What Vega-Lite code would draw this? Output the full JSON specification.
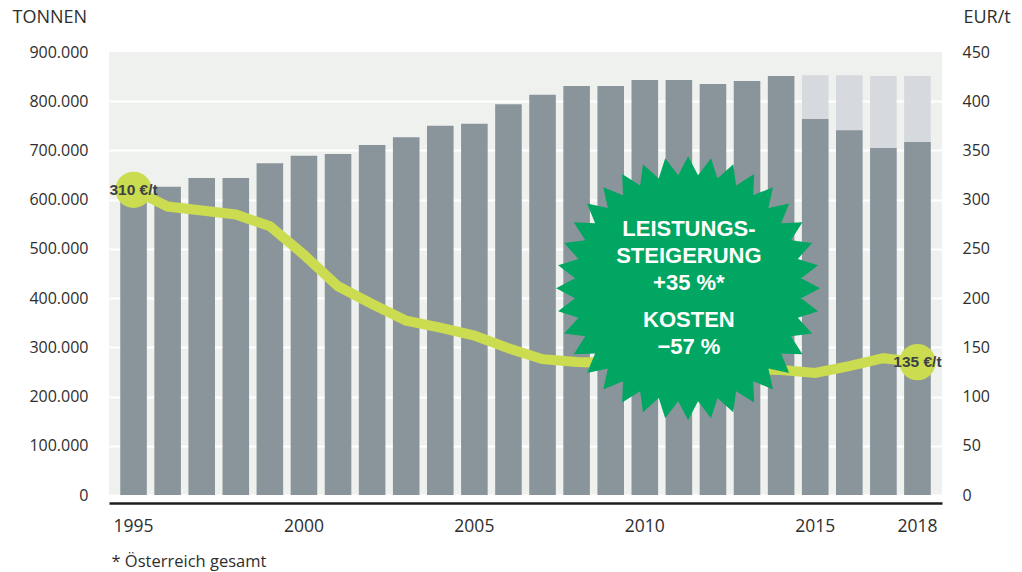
{
  "$schema": "https://vega.github.io/schema/vega-lite/v6.json",
  "width": 833,
  "height": 443,
  "autosize": "none",
  "padding": {"left": 109, "top": 52, "right": 80, "bottom": 77},
  "background": "#ffffff",
  "config": {"view": {"stroke": null, "fill": "#eff1ee"}},
  "datasets": {
    "main": [
      {"jahr": 1995, "tonnen": 610000, "eur": 310, "label": "310 €/t"},
      {"jahr": 1996, "tonnen": 626000, "eur": 293},
      {"jahr": 1997, "tonnen": 644000, "eur": 289},
      {"jahr": 1998, "tonnen": 644000, "eur": 285},
      {"jahr": 1999, "tonnen": 674000, "eur": 273},
      {"jahr": 2000, "tonnen": 689000, "eur": 244},
      {"jahr": 2001, "tonnen": 693000, "eur": 212},
      {"jahr": 2002, "tonnen": 711000, "eur": 194},
      {"jahr": 2003, "tonnen": 727000, "eur": 177},
      {"jahr": 2004, "tonnen": 750000, "eur": 170},
      {"jahr": 2005, "tonnen": 754000, "eur": 162},
      {"jahr": 2006, "tonnen": 794000, "eur": 149},
      {"jahr": 2007, "tonnen": 813000, "eur": 138},
      {"jahr": 2008, "tonnen": 831000, "eur": 135},
      {"jahr": 2009, "tonnen": 831000, "eur": 134},
      {"jahr": 2010, "tonnen": 843000, "eur": 132},
      {"jahr": 2011, "tonnen": 843000, "eur": 130},
      {"jahr": 2012, "tonnen": 835000, "eur": 129},
      {"jahr": 2013, "tonnen": 841000, "eur": 128},
      {"jahr": 2014, "tonnen": 851000, "eur": 127},
      {"jahr": 2015, "tonnen": 764000, "gesamt": 853000, "eur": 124},
      {"jahr": 2016, "tonnen": 741000, "gesamt": 853000, "eur": 131},
      {"jahr": 2017, "tonnen": 705000, "gesamt": 851000, "eur": 139},
      {"jahr": 2018, "tonnen": 717000, "gesamt": 851000, "eur": 135, "label": "135 €/t"}
    ],
    "stern": [{"jahr": 2011, "wert": 420000}]
  },
  "encoding": {
    "x": {
      "field": "jahr",
      "type": "ordinal",
      "scale": {"type": "band", "paddingInner": 0.22, "paddingOuter": 0.33},
      "axis": {
        "values": [1995, 2000, 2005, 2010, 2015, 2018],
        "labelAngle": 0,
        "labelFont": "Open Sans",
        "labelFontSize": 17.5,
        "labelColor": "#2e2e2e",
        "labelPadding": 14,
        "ticks": false,
        "domain": true,
        "domainColor": "#1e1e1e",
        "domainWidth": 2.5,
        "offset": 8,
        "grid": false,
        "title": "* Österreich gesamt",
        "titleAnchor": "start",
        "titleAlign": "left",
        "titleBaseline": "alphabetic",
        "titleX": 2,
        "titleY": 63,
        "titleFont": "Open Sans",
        "titleFontSize": 16.5,
        "titleFontWeight": "normal",
        "titleColor": "#2e2e2e"
      }
    }
  },
  "layer": [
    {
      "data": {"name": "main"},
      "encoding": {
        "y": {
          "type": "quantitative",
          "scale": {"domain": [0, 900000], "nice": false},
          "axis": {
            "orient": "left",
            "values": [0, 100000, 200000, 300000, 400000, 500000, 600000, 700000, 800000, 900000],
            "labelExpr": "replace(format(datum.value, ','), ',', '.')",
            "labelFont": "Open Sans",
            "labelFontSize": 16,
            "labelColor": "#2e2e2e",
            "labelPadding": 21,
            "ticks": false,
            "domain": false,
            "grid": true,
            "gridColor": "#ffffff",
            "gridWidth": 2,
            "gridOpacity": {"condition": {"test": "datum.value === 900000", "value": 0}, "value": 1},
            "title": "TONNEN",
            "titleAngle": 0,
            "titleAlign": "left",
            "titleBaseline": "alphabetic",
            "titleX": -97,
            "titleY": -30,
            "titleFont": "Open Sans",
            "titleFontSize": 18,
            "titleFontWeight": "normal",
            "titleColor": "#2e2e2e"
          }
        }
      },
      "layer": [
        {
          "mark": {"type": "bar", "color": "#d6d9de"},
          "encoding": {"y": {"field": "gesamt", "type": "quantitative"}}
        },
        {
          "mark": {"type": "bar", "color": "#8a959b"},
          "encoding": {"y": {"field": "tonnen", "type": "quantitative"}}
        }
      ]
    },
    {
      "data": {"name": "main"},
      "encoding": {
        "y": {
          "field": "eur",
          "type": "quantitative",
          "scale": {"domain": [0, 450], "nice": false},
          "axis": {
            "orient": "right",
            "values": [0, 50, 100, 150, 200, 250, 300, 350, 400, 450],
            "labelFont": "Open Sans",
            "labelFontSize": 16,
            "labelColor": "#2e2e2e",
            "labelPadding": 20,
            "ticks": false,
            "domain": false,
            "grid": false,
            "title": "EUR/t",
            "titleAngle": 0,
            "titleAlign": "left",
            "titleBaseline": "alphabetic",
            "titleX": 21,
            "titleY": -30,
            "titleFont": "Open Sans",
            "titleFontSize": 18,
            "titleFontWeight": "normal",
            "titleColor": "#2e2e2e"
          }
        }
      },
      "layer": [
        {
          "mark": {"type": "line", "color": "#cbdc50", "strokeWidth": 10, "strokeJoin": "miter"}
        },
        {
          "transform": [{"filter": "isValid(datum.label)"}],
          "mark": {"type": "circle", "color": "#cbdc50", "size": 1320, "opacity": 1}
        },
        {
          "transform": [{"filter": "isValid(datum.label)"}],
          "mark": {"type": "text", "font": "Liberation Sans", "fontWeight": "bold", "fontSize": 15.5, "color": "#3c4147", "align": "center", "baseline": "middle"},
          "encoding": {"text": {"field": "label", "type": "nominal"}}
        }
      ]
    },
    {
      "data": {"name": "stern"},
      "encoding": {
        "y": {
          "field": "wert",
          "type": "quantitative",
          "scale": {"domain": [0, 900000], "nice": false},
          "axis": null
        }
      },
      "layer": [
        {
          "mark": {
            "type": "point",
            "filled": true,
            "color": "#00a662",
            "opacity": 1,
            "strokeWidth": 0,
            "size": 69696,
            "shape": "M1.07,0L.9267,.075L1.0548,.1736L.9007,.2226L1.0097,.342L.8494,.3634L.936,.5L.7745,.4933L.836,.6428L.6781,.6081L.7128,.766L.5633,.7045L.57,.866L.4334,.7794L.412,.9397L.2926,.8307L.2436,.9848L.145,.8567L.07,1L-.005,.8567L-.1036,.9848L-.1526,.8307L-.272,.9397L-.2934,.7794L-.43,.866L-.4233,.7045L-.5728,.766L-.5381,.6081L-.696,.6428L-.6345,.4933L-.796,.5L-.7094,.3634L-.8697,.342L-.7607,.2226L-.9148,.1736L-.7867,.075L-.93,0L-.7867,-.075L-.9148,-.1736L-.7607,-.2226L-.8697,-.342L-.7094,-.3634L-.796,-.5L-.6345,-.4933L-.696,-.6428L-.5381,-.6081L-.5728,-.766L-.4233,-.7045L-.43,-.866L-.2934,-.7794L-.272,-.9397L-.1526,-.8307L-.1036,-.9848L-.005,-.8567L.07,-1L.145,-.8567L.2436,-.9848L.2926,-.8307L.412,-.9397L.4334,-.7794L.57,-.866L.5633,-.7045L.7128,-.766L.6781,-.6081L.836,-.6428L.7745,-.4933L.936,-.5L.8494,-.3634L1.0097,-.342L.9007,-.2226L1.0548,-.1736L.9267,-.075Z"
          }
        },
        {
          "mark": {"type": "text", "text": ["LEISTUNGS-", "STEIGERUNG", "+35 %*"], "font": "Liberation Sans", "fontWeight": "bold", "fontSize": 22, "lineHeight": 27, "color": "#ffffff", "align": "center", "baseline": "middle", "dx": 10, "dy": -59}
        },
        {
          "mark": {"type": "text", "text": ["KOSTEN", "−57 %"], "font": "Liberation Sans", "fontWeight": "bold", "fontSize": 22, "lineHeight": 27, "color": "#ffffff", "align": "center", "baseline": "middle", "dx": 10, "dy": 32}
        }
      ]
    }
  ],
  "resolve": {"scale": {"y": "independent"}, "axis": {"y": "independent"}}
}
